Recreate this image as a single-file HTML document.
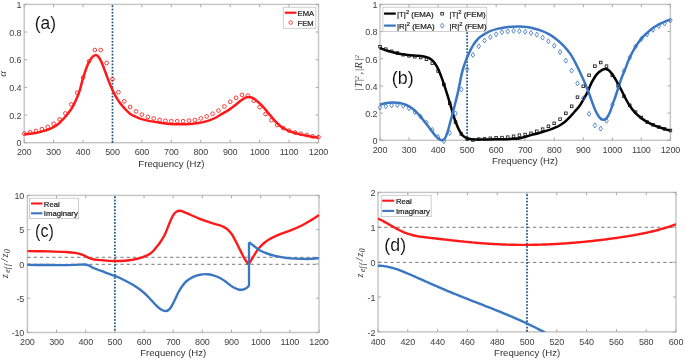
<!DOCTYPE html>
<html><head><meta charset="utf-8"><title>Chart</title>
<style>
html,body{margin:0;padding:0;background:#fff;width:685px;height:360px;overflow:hidden;}
svg{display:block;font-family:"Liberation Sans", sans-serif;}
</style></head><body>
<svg width="685" height="360" viewBox="0 0 685 360">
<rect width="685" height="360" fill="#fff"/>
<g style="opacity:0.999">
<defs><clipPath id="ca"><rect x="24.2" y="4.4" width="294.3" height="138.3"/></clipPath><clipPath id="cb"><rect x="380" y="4.4" width="290.4" height="135.9"/></clipPath><clipPath id="cc"><rect x="27.4" y="195.4" width="291.6" height="137.1"/></clipPath><clipPath id="cd"><rect x="378" y="192.4" width="298" height="139.5"/></clipPath></defs>
<rect x="24.2" y="4.4" width="294.3" height="138.3" fill="none" stroke="#c4c4c4" stroke-width="1.4"/>
<path d="M24.2,142.7 v-2.9 M24.2,4.4 v2.9 M53.63,142.7 v-2.9 M53.63,4.4 v2.9 M83.06,142.7 v-2.9 M83.06,4.4 v2.9 M112.49,142.7 v-2.9 M112.49,4.4 v2.9 M141.92,142.7 v-2.9 M141.92,4.4 v2.9 M171.35,142.7 v-2.9 M171.35,4.4 v2.9 M200.78,142.7 v-2.9 M200.78,4.4 v2.9 M230.21,142.7 v-2.9 M230.21,4.4 v2.9 M259.64,142.7 v-2.9 M259.64,4.4 v2.9 M289.07,142.7 v-2.9 M289.07,4.4 v2.9 M318.5,142.7 v-2.9 M318.5,4.4 v2.9 M24.2,142.7 h2.9 M318.5,142.7 h-2.9 M24.2,115.04 h2.9 M318.5,115.04 h-2.9 M24.2,87.38 h2.9 M318.5,87.38 h-2.9 M24.2,59.72 h2.9 M318.5,59.72 h-2.9 M24.2,32.06 h2.9 M318.5,32.06 h-2.9 M24.2,4.4 h2.9 M318.5,4.4 h-2.9 " stroke="#a8a8a8" stroke-width="1" fill="none"/>
<text x="24.2" y="154.8" font-size="9" text-anchor="middle" fill="#404040" font-family='"Liberation Sans", sans-serif' letter-spacing="-0.15">200</text>
<text x="53.63" y="154.8" font-size="9" text-anchor="middle" fill="#404040" font-family='"Liberation Sans", sans-serif' letter-spacing="-0.15">300</text>
<text x="83.06" y="154.8" font-size="9" text-anchor="middle" fill="#404040" font-family='"Liberation Sans", sans-serif' letter-spacing="-0.15">400</text>
<text x="112.49" y="154.8" font-size="9" text-anchor="middle" fill="#404040" font-family='"Liberation Sans", sans-serif' letter-spacing="-0.15">500</text>
<text x="141.92" y="154.8" font-size="9" text-anchor="middle" fill="#404040" font-family='"Liberation Sans", sans-serif' letter-spacing="-0.15">600</text>
<text x="171.35" y="154.8" font-size="9" text-anchor="middle" fill="#404040" font-family='"Liberation Sans", sans-serif' letter-spacing="-0.15">700</text>
<text x="200.78" y="154.8" font-size="9" text-anchor="middle" fill="#404040" font-family='"Liberation Sans", sans-serif' letter-spacing="-0.15">800</text>
<text x="230.21" y="154.8" font-size="9" text-anchor="middle" fill="#404040" font-family='"Liberation Sans", sans-serif' letter-spacing="-0.15">900</text>
<text x="259.64" y="154.8" font-size="9" text-anchor="middle" fill="#404040" font-family='"Liberation Sans", sans-serif' letter-spacing="-0.15">1000</text>
<text x="289.07" y="154.8" font-size="9" text-anchor="middle" fill="#404040" font-family='"Liberation Sans", sans-serif' letter-spacing="-0.15">1100</text>
<text x="318.5" y="154.8" font-size="9" text-anchor="middle" fill="#404040" font-family='"Liberation Sans", sans-serif' letter-spacing="-0.15">1200</text>
<text x="21.3" y="146.44" font-size="9" text-anchor="end" fill="#404040" font-family='"Liberation Sans", sans-serif' letter-spacing="-0.15">0</text>
<text x="21.3" y="118.78" font-size="9" text-anchor="end" fill="#404040" font-family='"Liberation Sans", sans-serif' letter-spacing="-0.15">0.2</text>
<text x="21.3" y="91.12" font-size="9" text-anchor="end" fill="#404040" font-family='"Liberation Sans", sans-serif' letter-spacing="-0.15">0.4</text>
<text x="21.3" y="63.46" font-size="9" text-anchor="end" fill="#404040" font-family='"Liberation Sans", sans-serif' letter-spacing="-0.15">0.6</text>
<text x="21.3" y="35.8" font-size="9" text-anchor="end" fill="#404040" font-family='"Liberation Sans", sans-serif' letter-spacing="-0.15">0.8</text>
<text x="21.3" y="8.14" font-size="9" text-anchor="end" fill="#404040" font-family='"Liberation Sans", sans-serif' letter-spacing="-0.15">1</text>
<g fill="#1a5280"><rect x="111.64" y="5.4" width="1.7" height="1.7"/><rect x="111.64" y="8.63" width="1.7" height="1.7"/><rect x="111.64" y="11.86" width="1.7" height="1.7"/><rect x="111.64" y="15.09" width="1.7" height="1.7"/><rect x="111.64" y="18.32" width="1.7" height="1.7"/><rect x="111.64" y="21.55" width="1.7" height="1.7"/><rect x="111.64" y="24.78" width="1.7" height="1.7"/><rect x="111.64" y="28.01" width="1.7" height="1.7"/><rect x="111.64" y="31.24" width="1.7" height="1.7"/><rect x="111.64" y="34.47" width="1.7" height="1.7"/><rect x="111.64" y="37.7" width="1.7" height="1.7"/><rect x="111.64" y="40.93" width="1.7" height="1.7"/><rect x="111.64" y="44.16" width="1.7" height="1.7"/><rect x="111.64" y="47.39" width="1.7" height="1.7"/><rect x="111.64" y="50.62" width="1.7" height="1.7"/><rect x="111.64" y="53.85" width="1.7" height="1.7"/><rect x="111.64" y="57.08" width="1.7" height="1.7"/><rect x="111.64" y="60.31" width="1.7" height="1.7"/><rect x="111.64" y="63.54" width="1.7" height="1.7"/><rect x="111.64" y="66.77" width="1.7" height="1.7"/><rect x="111.64" y="70" width="1.7" height="1.7"/><rect x="111.64" y="73.23" width="1.7" height="1.7"/><rect x="111.64" y="76.46" width="1.7" height="1.7"/><rect x="111.64" y="79.69" width="1.7" height="1.7"/><rect x="111.64" y="82.92" width="1.7" height="1.7"/><rect x="111.64" y="86.15" width="1.7" height="1.7"/><rect x="111.64" y="89.38" width="1.7" height="1.7"/><rect x="111.64" y="92.61" width="1.7" height="1.7"/><rect x="111.64" y="95.84" width="1.7" height="1.7"/><rect x="111.64" y="99.07" width="1.7" height="1.7"/><rect x="111.64" y="102.3" width="1.7" height="1.7"/><rect x="111.64" y="105.53" width="1.7" height="1.7"/><rect x="111.64" y="108.76" width="1.7" height="1.7"/><rect x="111.64" y="111.99" width="1.7" height="1.7"/><rect x="111.64" y="115.22" width="1.7" height="1.7"/><rect x="111.64" y="118.45" width="1.7" height="1.7"/><rect x="111.64" y="121.68" width="1.7" height="1.7"/><rect x="111.64" y="124.91" width="1.7" height="1.7"/><rect x="111.64" y="128.14" width="1.7" height="1.7"/><rect x="111.64" y="131.37" width="1.7" height="1.7"/><rect x="111.64" y="134.6" width="1.7" height="1.7"/><rect x="111.64" y="137.83" width="1.7" height="1.7"/><rect x="111.64" y="141.06" width="1.7" height="1.7"/></g>
<path d="M24.2,134.4 C25.17,134.31 27.92,134.12 30,133.85 C32.08,133.58 34.48,133.26 36.7,132.8 C38.92,132.34 41.08,131.76 43.3,131.1 C45.52,130.44 47.77,129.85 50,128.85 C52.23,127.85 54.95,126.26 56.7,125.1 C58.45,123.94 58.88,123.5 60.5,121.9 C62.12,120.3 64.4,117.97 66.4,115.5 C68.4,113.03 70.72,110.08 72.5,107.1 C74.28,104.12 75.85,100.52 77.1,97.6 C78.35,94.68 79.01,92.85 80,89.6 C80.99,86.35 81.78,82.18 83.05,78.1 C84.32,74.02 86.19,68.43 87.6,65.1 C89.01,61.77 90.22,59.77 91.5,58.1 C92.78,56.43 94.17,55.35 95.3,55.1 C96.43,54.85 97.28,55.47 98.3,56.6 C99.32,57.73 100.38,59.75 101.4,61.9 C102.42,64.05 103.38,66.83 104.4,69.5 C105.42,72.17 106.48,75.22 107.5,77.9 C108.52,80.58 109.48,83.18 110.5,85.6 C111.52,88.02 112.58,90.37 113.6,92.4 C114.62,94.43 115.53,96.03 116.6,97.8 C117.67,99.57 118.6,101.17 120,103 C121.4,104.83 123.33,107 125,108.8 C126.67,110.6 128.33,112.53 130,113.8 C131.67,115.07 133.33,115.6 135,116.4 C136.67,117.2 137.5,117.82 140,118.6 C142.5,119.38 146.67,120.4 150,121.1 C153.33,121.8 156.67,122.33 160,122.8 C163.33,123.27 166.67,123.65 170,123.9 C173.33,124.15 176.67,124.28 180,124.3 C183.33,124.32 186.67,124.25 190,124 C193.33,123.75 197.5,123.2 200,122.8 C202.5,122.4 203.33,122.05 205,121.6 C206.67,121.15 208.33,120.7 210,120.1 C211.67,119.5 213,119.03 215,118 C217,116.97 219.5,115.38 222,113.9 C224.5,112.42 227.67,110.67 230,109.1 C232.33,107.53 234.17,105.95 236,104.5 C237.83,103.05 239.5,101.52 241,100.4 C242.5,99.28 243.75,98.37 245,97.8 C246.25,97.23 247.33,97.02 248.5,97 C249.67,96.98 250.75,97.17 252,97.7 C253.25,98.23 254.33,98.88 256,100.2 C257.67,101.52 260,103.53 262,105.6 C264,107.67 266,110.23 268,112.6 C270,114.97 272,117.6 274,119.8 C276,122 278.17,124.25 280,125.8 C281.83,127.35 283.33,128.17 285,129.1 C286.67,130.03 287.5,130.52 290,131.4 C292.5,132.28 296.67,133.57 300,134.4 C303.33,135.23 306.92,135.83 310,136.4 C313.08,136.97 317.08,137.57 318.5,137.8" stroke="#ff1a1a" stroke-width="2.5" fill="none" stroke-linejoin="round" stroke-linecap="butt"/>
<g fill="none" stroke="#ff1a1a" stroke-width="0.85"><circle cx="24.2" cy="133.6" r="1.85"/><circle cx="30.09" cy="132.3" r="1.85"/><circle cx="35.97" cy="130.9" r="1.85"/><circle cx="41.86" cy="129.1" r="1.85"/><circle cx="47.74" cy="126.9" r="1.85"/><circle cx="53.63" cy="123.7" r="1.85"/><circle cx="59.52" cy="119.4" r="1.85"/><circle cx="65.4" cy="113.4" r="1.85"/><circle cx="71.29" cy="104.4" r="1.85"/><circle cx="77.17" cy="92.6" r="1.85"/><circle cx="83.06" cy="77.5" r="1.85"/><circle cx="88.95" cy="61.3" r="1.85"/><circle cx="94.83" cy="50" r="1.85"/><circle cx="100.72" cy="50" r="1.85"/><circle cx="106.6" cy="63" r="1.85"/><circle cx="112.49" cy="79.2" r="1.85"/><circle cx="118.38" cy="92.2" r="1.85"/><circle cx="124.26" cy="101.3" r="1.85"/><circle cx="130.15" cy="107" r="1.85"/><circle cx="136.03" cy="111.4" r="1.85"/><circle cx="141.92" cy="114.6" r="1.85"/><circle cx="147.81" cy="116.9" r="1.85"/><circle cx="153.69" cy="118.5" r="1.85"/><circle cx="159.58" cy="119.9" r="1.85"/><circle cx="165.46" cy="120.8" r="1.85"/><circle cx="171.35" cy="121.2" r="1.85"/><circle cx="177.24" cy="121.2" r="1.85"/><circle cx="183.12" cy="121.2" r="1.85"/><circle cx="189.01" cy="120.6" r="1.85"/><circle cx="194.89" cy="120" r="1.85"/><circle cx="200.78" cy="118.4" r="1.85"/><circle cx="206.67" cy="116.4" r="1.85"/><circle cx="212.55" cy="113.75" r="1.85"/><circle cx="218.44" cy="110.6" r="1.85"/><circle cx="224.32" cy="106.4" r="1.85"/><circle cx="230.21" cy="101.8" r="1.85"/><circle cx="236.1" cy="97.8" r="1.85"/><circle cx="241.98" cy="94.9" r="1.85"/><circle cx="247.87" cy="95.6" r="1.85"/><circle cx="253.75" cy="100.8" r="1.85"/><circle cx="259.64" cy="107.1" r="1.85"/><circle cx="265.53" cy="114" r="1.85"/><circle cx="271.41" cy="120.2" r="1.85"/><circle cx="277.3" cy="125" r="1.85"/><circle cx="283.18" cy="128.1" r="1.85"/><circle cx="289.07" cy="130.6" r="1.85"/><circle cx="294.96" cy="132.5" r="1.85"/><circle cx="300.84" cy="133.75" r="1.85"/><circle cx="306.73" cy="135" r="1.85"/><circle cx="312.61" cy="136.25" r="1.85"/><circle cx="318.5" cy="137.1" r="1.85"/></g>
<rect x="283.3" y="7.3" width="32.5" height="21" fill="#fff" stroke="#c4c4c4" stroke-width="0.8"/>
<line x1="284.8" y1="12.7" x2="296.5" y2="12.7" stroke="#ff1a1a" stroke-width="2.2"/>
<circle cx="290.7" cy="22.6" r="1.75" fill="none" stroke="#ff1a1a" stroke-width="0.85"/>
<text x="297.6" y="15.8" font-size="7.6" text-anchor="start" fill="#1e1e1e" font-family='"Liberation Sans", sans-serif' stroke="#1e1e1e" stroke-width="0.22">EMA</text>
<text x="297.6" y="25.6" font-size="7.6" text-anchor="start" fill="#1e1e1e" font-family='"Liberation Sans", sans-serif' stroke="#1e1e1e" stroke-width="0.22">FEM</text>
<text x="171.4" y="167.1" font-size="9.6" text-anchor="middle" fill="#333" font-family='"Liberation Sans", sans-serif' >Frequency (Hz)</text>
<text x="6" y="73.9" font-size="10.6" text-anchor="middle" fill="#333" font-family='"Liberation Serif", serif' font-style="italic" transform="rotate(-90 6.0 73.9)">&#945;</text>
<rect x="380" y="4.4" width="290.4" height="135.9" fill="none" stroke="#c4c4c4" stroke-width="1.4"/>
<path d="M380,140.3 v-2.9 M380,4.4 v2.9 M409.04,140.3 v-2.9 M409.04,4.4 v2.9 M438.08,140.3 v-2.9 M438.08,4.4 v2.9 M467.12,140.3 v-2.9 M467.12,4.4 v2.9 M496.16,140.3 v-2.9 M496.16,4.4 v2.9 M525.2,140.3 v-2.9 M525.2,4.4 v2.9 M554.24,140.3 v-2.9 M554.24,4.4 v2.9 M583.28,140.3 v-2.9 M583.28,4.4 v2.9 M612.32,140.3 v-2.9 M612.32,4.4 v2.9 M641.36,140.3 v-2.9 M641.36,4.4 v2.9 M670.4,140.3 v-2.9 M670.4,4.4 v2.9 M380,140.3 h2.9 M670.4,140.3 h-2.9 M380,113.12 h2.9 M670.4,113.12 h-2.9 M380,85.94 h2.9 M670.4,85.94 h-2.9 M380,58.76 h2.9 M670.4,58.76 h-2.9 M380,31.58 h2.9 M670.4,31.58 h-2.9 M380,4.4 h2.9 M670.4,4.4 h-2.9 " stroke="#a8a8a8" stroke-width="1" fill="none"/>
<text x="380" y="152.6" font-size="9" text-anchor="middle" fill="#404040" font-family='"Liberation Sans", sans-serif' letter-spacing="-0.15">200</text>
<text x="409.04" y="152.6" font-size="9" text-anchor="middle" fill="#404040" font-family='"Liberation Sans", sans-serif' letter-spacing="-0.15">300</text>
<text x="438.08" y="152.6" font-size="9" text-anchor="middle" fill="#404040" font-family='"Liberation Sans", sans-serif' letter-spacing="-0.15">400</text>
<text x="467.12" y="152.6" font-size="9" text-anchor="middle" fill="#404040" font-family='"Liberation Sans", sans-serif' letter-spacing="-0.15">500</text>
<text x="496.16" y="152.6" font-size="9" text-anchor="middle" fill="#404040" font-family='"Liberation Sans", sans-serif' letter-spacing="-0.15">600</text>
<text x="525.2" y="152.6" font-size="9" text-anchor="middle" fill="#404040" font-family='"Liberation Sans", sans-serif' letter-spacing="-0.15">700</text>
<text x="554.24" y="152.6" font-size="9" text-anchor="middle" fill="#404040" font-family='"Liberation Sans", sans-serif' letter-spacing="-0.15">800</text>
<text x="583.28" y="152.6" font-size="9" text-anchor="middle" fill="#404040" font-family='"Liberation Sans", sans-serif' letter-spacing="-0.15">900</text>
<text x="612.32" y="152.6" font-size="9" text-anchor="middle" fill="#404040" font-family='"Liberation Sans", sans-serif' letter-spacing="-0.15">1000</text>
<text x="641.36" y="152.6" font-size="9" text-anchor="middle" fill="#404040" font-family='"Liberation Sans", sans-serif' letter-spacing="-0.15">1100</text>
<text x="670.4" y="152.6" font-size="9" text-anchor="middle" fill="#404040" font-family='"Liberation Sans", sans-serif' letter-spacing="-0.15">1200</text>
<text x="377.3" y="144.04" font-size="9" text-anchor="end" fill="#404040" font-family='"Liberation Sans", sans-serif' letter-spacing="-0.15">0</text>
<text x="377.3" y="116.86" font-size="9" text-anchor="end" fill="#404040" font-family='"Liberation Sans", sans-serif' letter-spacing="-0.15">0.2</text>
<text x="377.3" y="89.68" font-size="9" text-anchor="end" fill="#404040" font-family='"Liberation Sans", sans-serif' letter-spacing="-0.15">0.4</text>
<text x="377.3" y="62.5" font-size="9" text-anchor="end" fill="#404040" font-family='"Liberation Sans", sans-serif' letter-spacing="-0.15">0.6</text>
<text x="377.3" y="35.32" font-size="9" text-anchor="end" fill="#404040" font-family='"Liberation Sans", sans-serif' letter-spacing="-0.15">0.8</text>
<text x="377.3" y="8.14" font-size="9" text-anchor="end" fill="#404040" font-family='"Liberation Sans", sans-serif' letter-spacing="-0.15">1</text>
<g fill="#1a5280"><rect x="466.27" y="32.2" width="1.7" height="1.7"/><rect x="466.27" y="35.43" width="1.7" height="1.7"/><rect x="466.27" y="38.66" width="1.7" height="1.7"/><rect x="466.27" y="41.89" width="1.7" height="1.7"/><rect x="466.27" y="45.12" width="1.7" height="1.7"/><rect x="466.27" y="48.35" width="1.7" height="1.7"/><rect x="466.27" y="51.58" width="1.7" height="1.7"/><rect x="466.27" y="54.81" width="1.7" height="1.7"/><rect x="466.27" y="58.04" width="1.7" height="1.7"/><rect x="466.27" y="61.27" width="1.7" height="1.7"/><rect x="466.27" y="64.5" width="1.7" height="1.7"/><rect x="466.27" y="67.73" width="1.7" height="1.7"/><rect x="466.27" y="70.96" width="1.7" height="1.7"/><rect x="466.27" y="74.19" width="1.7" height="1.7"/><rect x="466.27" y="77.42" width="1.7" height="1.7"/><rect x="466.27" y="80.65" width="1.7" height="1.7"/><rect x="466.27" y="83.88" width="1.7" height="1.7"/><rect x="466.27" y="87.11" width="1.7" height="1.7"/><rect x="466.27" y="90.34" width="1.7" height="1.7"/><rect x="466.27" y="93.57" width="1.7" height="1.7"/><rect x="466.27" y="96.8" width="1.7" height="1.7"/><rect x="466.27" y="100.03" width="1.7" height="1.7"/><rect x="466.27" y="103.26" width="1.7" height="1.7"/><rect x="466.27" y="106.49" width="1.7" height="1.7"/><rect x="466.27" y="109.72" width="1.7" height="1.7"/><rect x="466.27" y="112.95" width="1.7" height="1.7"/><rect x="466.27" y="116.18" width="1.7" height="1.7"/><rect x="466.27" y="119.41" width="1.7" height="1.7"/><rect x="466.27" y="122.64" width="1.7" height="1.7"/><rect x="466.27" y="125.87" width="1.7" height="1.7"/><rect x="466.27" y="129.1" width="1.7" height="1.7"/><rect x="466.27" y="132.33" width="1.7" height="1.7"/><rect x="466.27" y="135.56" width="1.7" height="1.7"/><rect x="466.27" y="138.79" width="1.7" height="1.7"/></g>
<path d="M380,48 C381.33,48.5 385,50.08 388,51 C391,51.92 394.67,52.83 398,53.5 C401.33,54.17 404.67,54.62 408,55 C411.33,55.38 415.17,55.52 418,55.8 C420.83,56.08 423.13,56.3 425,56.7 C426.87,57.1 427.82,57.43 429.2,58.2 C430.58,58.97 431.92,59.73 433.3,61.3 C434.68,62.87 436.22,65.17 437.5,67.6 C438.78,70.03 439.85,72.9 441,75.9 C442.15,78.9 443.25,82.15 444.4,85.6 C445.55,89.05 446.83,93.17 447.9,96.6 C448.97,100.03 449.93,103.25 450.8,106.2 C451.67,109.15 452.19,111.42 453.1,114.3 C454.01,117.18 455.2,120.78 456.25,123.5 C457.3,126.22 458.34,128.63 459.4,130.6 C460.46,132.57 461.37,134.05 462.6,135.3 C463.83,136.55 465.28,137.45 466.8,138.1 C468.32,138.75 469.5,138.97 471.7,139.2 C473.9,139.43 476.95,139.47 480,139.5 C483.05,139.53 486.67,139.45 490,139.4 C493.33,139.35 496.67,139.28 500,139.2 C503.33,139.12 506.67,139.07 510,138.9 C513.33,138.73 516.67,138.78 520,138.2 C523.33,137.62 526.67,136.3 530,135.4 C533.33,134.5 536.67,133.77 540,132.8 C543.33,131.83 547.5,130.45 550,129.6 C552.5,128.75 553.33,128.43 555,127.7 C556.67,126.97 558.33,126.2 560,125.2 C561.67,124.2 563.33,123.08 565,121.7 C566.67,120.32 568.33,118.63 570,116.9 C571.67,115.17 573.33,113.25 575,111.3 C576.67,109.35 578.2,107.87 580,105.2 C581.8,102.53 584.38,97.85 585.8,95.3 C587.22,92.75 587.62,91.85 588.5,89.9 C589.38,87.95 589.73,86.18 591.1,83.6 C592.47,81.02 594.85,76.68 596.7,74.4 C598.55,72.12 600.7,70.78 602.2,69.9 C603.7,69.02 604.53,68.98 605.7,69.1 C606.87,69.22 607.93,69.48 609.2,70.6 C610.47,71.72 611.68,73.35 613.3,75.8 C614.92,78.25 617.03,81.88 618.9,85.3 C620.77,88.72 622.78,93.02 624.5,96.3 C626.22,99.58 627.4,102.23 629.2,105 C631,107.77 633.27,110.7 635.3,112.9 C637.33,115.1 639.37,116.67 641.4,118.2 C643.43,119.73 645.47,120.95 647.5,122.1 C649.53,123.25 651.57,124.22 653.6,125.1 C655.63,125.98 657.67,126.68 659.7,127.4 C661.73,128.12 664.02,128.88 665.8,129.4 C667.58,129.92 669.63,130.32 670.4,130.5" stroke="#000000" stroke-width="2.5" fill="none" stroke-linejoin="round" stroke-linecap="butt"/>
<path d="M380,104.6 C381.05,104.32 384.13,103.27 386.3,102.9 C388.47,102.53 390.77,102.38 393,102.4 C395.23,102.42 397.48,102.57 399.7,103 C401.92,103.43 404.08,104 406.3,105 C408.52,106 410.77,107.23 413,109 C415.23,110.77 417.7,113.38 419.7,115.6 C421.7,117.82 423.49,120.4 425,122.3 C426.51,124.2 427.5,125.37 428.75,127 C430,128.63 431.25,130.5 432.5,132.1 C433.75,133.7 435,135.35 436.25,136.6 C437.5,137.85 438.99,139.02 440,139.6 C441.01,140.18 441.5,140.27 442.3,140.1 C443.1,139.93 443.93,139.92 444.8,138.6 C445.67,137.28 446.63,134.77 447.5,132.2 C448.37,129.63 449.17,126.27 450,123.2 C450.83,120.13 451.67,116.97 452.5,113.8 C453.33,110.63 454.18,107.4 455,104.2 C455.82,101 456.63,97.93 457.4,94.6 C458.17,91.27 458.9,87.57 459.6,84.2 C460.3,80.83 460.95,77.2 461.6,74.4 C462.25,71.6 462.73,69.87 463.5,67.4 C464.27,64.93 465.45,61.7 466.25,59.6 C467.05,57.5 467.56,56.47 468.3,54.8 C469.04,53.13 469.83,51.3 470.7,49.6 C471.57,47.9 472.5,46.13 473.5,44.6 C474.5,43.07 475.62,41.65 476.7,40.4 C477.78,39.15 478.62,38.18 480,37.1 C481.38,36.02 483.33,34.88 485,33.9 C486.67,32.92 487.95,32.03 490,31.2 C492.05,30.37 494.87,29.52 497.3,28.9 C499.73,28.28 502.17,27.87 504.6,27.5 C507.03,27.13 509.47,26.87 511.9,26.7 C514.33,26.53 516.77,26.43 519.2,26.5 C521.63,26.57 524.07,26.77 526.5,27.1 C528.93,27.43 531.37,27.9 533.8,28.5 C536.23,29.1 538.67,29.8 541.1,30.7 C543.53,31.6 545.97,32.57 548.4,33.9 C550.83,35.23 553.23,36.8 555.7,38.7 C558.17,40.6 560.77,42.77 563.2,45.3 C565.63,47.83 568.2,50.85 570.3,53.9 C572.4,56.95 573.95,60.05 575.8,63.6 C577.65,67.15 579.83,71.83 581.4,75.2 C582.97,78.57 583.97,80.87 585.2,83.8 C586.43,86.73 587.7,89.92 588.8,92.8 C589.9,95.68 590.72,98.18 591.8,101.1 C592.88,104.02 594.03,107.58 595.3,110.3 C596.57,113.02 598.13,115.82 599.4,117.4 C600.67,118.98 601.73,119.63 602.9,119.8 C604.07,119.97 605.23,119.67 606.4,118.4 C607.57,117.13 608.75,114.82 609.9,112.2 C611.05,109.58 612.15,105.98 613.3,102.7 C614.45,99.42 615.52,96.35 616.8,92.5 C618.08,88.65 619.5,83.75 621,79.6 C622.5,75.45 624.43,71.07 625.8,67.6 C627.17,64.13 627.62,62.2 629.2,58.8 C630.78,55.4 633.27,50.57 635.3,47.2 C637.33,43.83 639.37,41.03 641.4,38.6 C643.43,36.17 645.47,34.43 647.5,32.6 C649.53,30.77 651.57,29.05 653.6,27.6 C655.63,26.15 657.67,24.97 659.7,23.9 C661.73,22.83 664.02,21.92 665.8,21.2 C667.58,20.48 669.63,19.87 670.4,19.6" stroke="#3a76c2" stroke-width="2.5" fill="none" stroke-linejoin="round" stroke-linecap="butt"/>
<g fill="none" stroke="#111" stroke-width="0.8"><rect x="378.7" y="45.4" width="2.6" height="2.6"/><rect x="384.51" y="47.9" width="2.6" height="2.6"/><rect x="390.32" y="50" width="2.6" height="2.6"/><rect x="396.12" y="51.7" width="2.6" height="2.6"/><rect x="401.93" y="53.4" width="2.6" height="2.6"/><rect x="407.74" y="54.5" width="2.6" height="2.6"/><rect x="413.55" y="55.4" width="2.6" height="2.6"/><rect x="419.36" y="56.2" width="2.6" height="2.6"/><rect x="425.16" y="58" width="2.6" height="2.6"/><rect x="430.97" y="61.9" width="2.6" height="2.6"/><rect x="436.78" y="69.7" width="2.6" height="2.6"/><rect x="442.59" y="83.2" width="2.6" height="2.6"/><rect x="448.4" y="102" width="2.6" height="2.6"/><rect x="454.2" y="120.8" width="2.6" height="2.6"/><rect x="460.01" y="132.7" width="2.6" height="2.6"/><rect x="465.82" y="137.7" width="2.6" height="2.6"/><rect x="471.63" y="138.7" width="2.6" height="2.6"/><rect x="477.44" y="137.9" width="2.6" height="2.6"/><rect x="483.24" y="137.6" width="2.6" height="2.6"/><rect x="489.05" y="137" width="2.6" height="2.6"/><rect x="494.86" y="136.5" width="2.6" height="2.6"/><rect x="500.67" y="136.3" width="2.6" height="2.6"/><rect x="506.48" y="135.9" width="2.6" height="2.6"/><rect x="512.28" y="135" width="2.6" height="2.6"/><rect x="518.09" y="133.9" width="2.6" height="2.6"/><rect x="523.9" y="133.2" width="2.6" height="2.6"/><rect x="529.71" y="132" width="2.6" height="2.6"/><rect x="535.52" y="130" width="2.6" height="2.6"/><rect x="541.32" y="127.9" width="2.6" height="2.6"/><rect x="547.13" y="125" width="2.6" height="2.6"/><rect x="552.94" y="122" width="2.6" height="2.6"/><rect x="558.75" y="117.9" width="2.6" height="2.6"/><rect x="564.56" y="112" width="2.6" height="2.6"/><rect x="570.36" y="105" width="2.6" height="2.6"/><rect x="576.17" y="95.9" width="2.6" height="2.6"/><rect x="581.98" y="85" width="2.6" height="2.6"/><rect x="587.79" y="74" width="2.6" height="2.6"/><rect x="593.6" y="64.9" width="2.6" height="2.6"/><rect x="599.4" y="61.2" width="2.6" height="2.6"/><rect x="605.21" y="64.9" width="2.6" height="2.6"/><rect x="611.02" y="74" width="2.6" height="2.6"/><rect x="616.83" y="83.7" width="2.6" height="2.6"/><rect x="622.64" y="95.1" width="2.6" height="2.6"/><rect x="628.44" y="104" width="2.6" height="2.6"/><rect x="634.25" y="110.8" width="2.6" height="2.6"/><rect x="640.06" y="116.2" width="2.6" height="2.6"/><rect x="645.87" y="120.8" width="2.6" height="2.6"/><rect x="651.68" y="123.5" width="2.6" height="2.6"/><rect x="657.48" y="125.7" width="2.6" height="2.6"/><rect x="663.29" y="127.6" width="2.6" height="2.6"/><rect x="669.1" y="129.2" width="2.6" height="2.6"/></g>
<g fill="none" stroke="#3a76c2" stroke-width="0.85"><path d="M380,105 l1.75,2.5 l-1.75,2.5 l-1.75,-2.5z"/><path d="M385.81,103.7 l1.75,2.5 l-1.75,2.5 l-1.75,-2.5z"/><path d="M391.62,102.8 l1.75,2.5 l-1.75,2.5 l-1.75,-2.5z"/><path d="M397.42,102.5 l1.75,2.5 l-1.75,2.5 l-1.75,-2.5z"/><path d="M403.23,103.3 l1.75,2.5 l-1.75,2.5 l-1.75,-2.5z"/><path d="M409.04,105.8 l1.75,2.5 l-1.75,2.5 l-1.75,-2.5z"/><path d="M414.85,109.5 l1.75,2.5 l-1.75,2.5 l-1.75,-2.5z"/><path d="M420.66,114.2 l1.75,2.5 l-1.75,2.5 l-1.75,-2.5z"/><path d="M426.46,120.2 l1.75,2.5 l-1.75,2.5 l-1.75,-2.5z"/><path d="M432.27,127.5 l1.75,2.5 l-1.75,2.5 l-1.75,-2.5z"/><path d="M438.08,134.4 l1.75,2.5 l-1.75,2.5 l-1.75,-2.5z"/><path d="M443.89,138.5 l1.75,2.5 l-1.75,2.5 l-1.75,-2.5z"/><path d="M449.7,130.6 l1.75,2.5 l-1.75,2.5 l-1.75,-2.5z"/><path d="M455.5,110.9 l1.75,2.5 l-1.75,2.5 l-1.75,-2.5z"/><path d="M461.31,86.9 l1.75,2.5 l-1.75,2.5 l-1.75,-2.5z"/><path d="M467.12,66.75 l1.75,2.5 l-1.75,2.5 l-1.75,-2.5z"/><path d="M472.93,52.5 l1.75,2.5 l-1.75,2.5 l-1.75,-2.5z"/><path d="M478.74,43.75 l1.75,2.5 l-1.75,2.5 l-1.75,-2.5z"/><path d="M484.54,38 l1.75,2.5 l-1.75,2.5 l-1.75,-2.5z"/><path d="M490.35,34.5 l1.75,2.5 l-1.75,2.5 l-1.75,-2.5z"/><path d="M496.16,31.8 l1.75,2.5 l-1.75,2.5 l-1.75,-2.5z"/><path d="M501.97,29.7 l1.75,2.5 l-1.75,2.5 l-1.75,-2.5z"/><path d="M507.78,28.9 l1.75,2.5 l-1.75,2.5 l-1.75,-2.5z"/><path d="M513.58,28.3 l1.75,2.5 l-1.75,2.5 l-1.75,-2.5z"/><path d="M519.39,28.6 l1.75,2.5 l-1.75,2.5 l-1.75,-2.5z"/><path d="M525.2,29.3 l1.75,2.5 l-1.75,2.5 l-1.75,-2.5z"/><path d="M531.01,30.5 l1.75,2.5 l-1.75,2.5 l-1.75,-2.5z"/><path d="M536.82,32.2 l1.75,2.5 l-1.75,2.5 l-1.75,-2.5z"/><path d="M542.62,35.1 l1.75,2.5 l-1.75,2.5 l-1.75,-2.5z"/><path d="M548.43,38.8 l1.75,2.5 l-1.75,2.5 l-1.75,-2.5z"/><path d="M554.24,43.2 l1.75,2.5 l-1.75,2.5 l-1.75,-2.5z"/><path d="M560.05,49.5 l1.75,2.5 l-1.75,2.5 l-1.75,-2.5z"/><path d="M565.86,58.1 l1.75,2.5 l-1.75,2.5 l-1.75,-2.5z"/><path d="M571.66,68.1 l1.75,2.5 l-1.75,2.5 l-1.75,-2.5z"/><path d="M577.47,80.8 l1.75,2.5 l-1.75,2.5 l-1.75,-2.5z"/><path d="M583.28,95.8 l1.75,2.5 l-1.75,2.5 l-1.75,-2.5z"/><path d="M589.09,111.4 l1.75,2.5 l-1.75,2.5 l-1.75,-2.5z"/><path d="M594.9,122.9 l1.75,2.5 l-1.75,2.5 l-1.75,-2.5z"/><path d="M600.7,126.1 l1.75,2.5 l-1.75,2.5 l-1.75,-2.5z"/><path d="M606.51,118.3 l1.75,2.5 l-1.75,2.5 l-1.75,-2.5z"/><path d="M612.32,102.1 l1.75,2.5 l-1.75,2.5 l-1.75,-2.5z"/><path d="M618.13,84.6 l1.75,2.5 l-1.75,2.5 l-1.75,-2.5z"/><path d="M623.94,68.3 l1.75,2.5 l-1.75,2.5 l-1.75,-2.5z"/><path d="M629.74,55.1 l1.75,2.5 l-1.75,2.5 l-1.75,-2.5z"/><path d="M635.55,44.1 l1.75,2.5 l-1.75,2.5 l-1.75,-2.5z"/><path d="M641.36,36.5 l1.75,2.5 l-1.75,2.5 l-1.75,-2.5z"/><path d="M647.17,31.9 l1.75,2.5 l-1.75,2.5 l-1.75,-2.5z"/><path d="M652.98,27.3 l1.75,2.5 l-1.75,2.5 l-1.75,-2.5z"/><path d="M658.78,23.5 l1.75,2.5 l-1.75,2.5 l-1.75,-2.5z"/><path d="M664.59,20.9 l1.75,2.5 l-1.75,2.5 l-1.75,-2.5z"/><path d="M670.4,17.9 l1.75,2.5 l-1.75,2.5 l-1.75,-2.5z"/></g>
<rect x="382.9" y="7.3" width="103.8" height="24.3" fill="#fff" stroke="#c4c4c4" stroke-width="0.8"/>
<line x1="384.1" y1="13.6" x2="395.8" y2="13.6" stroke="#000" stroke-width="2.2"/>
<line x1="384.1" y1="25.6" x2="395.8" y2="25.6" stroke="#3a76c2" stroke-width="2.2"/>
<rect x="440.8" y="12.4" width="2.6" height="2.6" fill="none" stroke="#111" stroke-width="0.8"/>
<path d="M442.2,23.2 l1.75,2.5 l-1.75,2.5 l-1.75,-2.5z" fill="none" stroke="#3a76c2" stroke-width="0.85"/>
<text x="397" y="17.2" font-size="7.9" fill="#1e1e1e" stroke="#1e1e1e" stroke-width="0.22" font-family='"Liberation Sans", sans-serif'>|T|<tspan dy="-2.8" font-size="5.8">2</tspan><tspan dy="2.8"> (EMA)</tspan></text>
<text x="397" y="29.1" font-size="7.9" fill="#1e1e1e" stroke="#1e1e1e" stroke-width="0.22" font-family='"Liberation Sans", sans-serif'>|R|<tspan dy="-2.8" font-size="5.8">2</tspan><tspan dy="2.8"> (EMA)</tspan></text>
<text x="449.4" y="17.2" font-size="7.9" fill="#1e1e1e" stroke="#1e1e1e" stroke-width="0.22" font-family='"Liberation Sans", sans-serif'>|T|<tspan dy="-2.8" font-size="5.8">2</tspan><tspan dy="2.8"> (FEM)</tspan></text>
<text x="449.4" y="29.1" font-size="7.9" fill="#1e1e1e" stroke="#1e1e1e" stroke-width="0.22" font-family='"Liberation Sans", sans-serif'>|R|<tspan dy="-2.8" font-size="5.8">2</tspan><tspan dy="2.8"> (FEM)</tspan></text>
<text x="525" y="164.1" font-size="9.6" text-anchor="middle" fill="#333" font-family='"Liberation Sans", sans-serif' >Frequency (Hz)</text>
<text transform="translate(362.4 91) rotate(-90)" fill="#333" font-family='"Liberation Serif", serif' font-style="italic"><tspan x="0" y="0" font-size="10.4">|</tspan><tspan x="3.6" y="0" font-size="10.4">T</tspan><tspan x="9.2" y="0" font-size="10.4">|</tspan><tspan x="11.6" y="-3.8" font-size="7">2</tspan><tspan x="16.4" y="0" font-size="10.4">,</tspan><tspan x="19.6" y="0" font-size="10.4">|</tspan><tspan x="22.4" y="0" font-size="10.4">R</tspan><tspan x="29.8" y="0" font-size="10.4">|</tspan><tspan x="32.6" y="-3.8" font-size="7">2</tspan></text>
<rect x="27.4" y="195.4" width="291.6" height="137.1" fill="none" stroke="#c4c4c4" stroke-width="1.4"/>
<path d="M27.4,332.5 v-2.9 M27.4,195.4 v2.9 M56.56,332.5 v-2.9 M56.56,195.4 v2.9 M85.72,332.5 v-2.9 M85.72,195.4 v2.9 M114.88,332.5 v-2.9 M114.88,195.4 v2.9 M144.04,332.5 v-2.9 M144.04,195.4 v2.9 M173.2,332.5 v-2.9 M173.2,195.4 v2.9 M202.36,332.5 v-2.9 M202.36,195.4 v2.9 M231.52,332.5 v-2.9 M231.52,195.4 v2.9 M260.68,332.5 v-2.9 M260.68,195.4 v2.9 M289.84,332.5 v-2.9 M289.84,195.4 v2.9 M319,332.5 v-2.9 M319,195.4 v2.9 M27.4,332.5 h2.9 M319,332.5 h-2.9 M27.4,298.23 h2.9 M319,298.23 h-2.9 M27.4,263.95 h2.9 M319,263.95 h-2.9 M27.4,229.68 h2.9 M319,229.68 h-2.9 M27.4,195.4 h2.9 M319,195.4 h-2.9 " stroke="#a8a8a8" stroke-width="1" fill="none"/>
<text x="27.4" y="344.6" font-size="9" text-anchor="middle" fill="#404040" font-family='"Liberation Sans", sans-serif' letter-spacing="-0.15">200</text>
<text x="56.56" y="344.6" font-size="9" text-anchor="middle" fill="#404040" font-family='"Liberation Sans", sans-serif' letter-spacing="-0.15">300</text>
<text x="85.72" y="344.6" font-size="9" text-anchor="middle" fill="#404040" font-family='"Liberation Sans", sans-serif' letter-spacing="-0.15">400</text>
<text x="114.88" y="344.6" font-size="9" text-anchor="middle" fill="#404040" font-family='"Liberation Sans", sans-serif' letter-spacing="-0.15">500</text>
<text x="144.04" y="344.6" font-size="9" text-anchor="middle" fill="#404040" font-family='"Liberation Sans", sans-serif' letter-spacing="-0.15">600</text>
<text x="173.2" y="344.6" font-size="9" text-anchor="middle" fill="#404040" font-family='"Liberation Sans", sans-serif' letter-spacing="-0.15">700</text>
<text x="202.36" y="344.6" font-size="9" text-anchor="middle" fill="#404040" font-family='"Liberation Sans", sans-serif' letter-spacing="-0.15">800</text>
<text x="231.52" y="344.6" font-size="9" text-anchor="middle" fill="#404040" font-family='"Liberation Sans", sans-serif' letter-spacing="-0.15">900</text>
<text x="260.68" y="344.6" font-size="9" text-anchor="middle" fill="#404040" font-family='"Liberation Sans", sans-serif' letter-spacing="-0.15">1000</text>
<text x="289.84" y="344.6" font-size="9" text-anchor="middle" fill="#404040" font-family='"Liberation Sans", sans-serif' letter-spacing="-0.15">1100</text>
<text x="319" y="344.6" font-size="9" text-anchor="middle" fill="#404040" font-family='"Liberation Sans", sans-serif' letter-spacing="-0.15">1200</text>
<text x="24.2" y="336.24" font-size="9" text-anchor="end" fill="#404040" font-family='"Liberation Sans", sans-serif' letter-spacing="-0.15">-10</text>
<text x="24.2" y="301.97" font-size="9" text-anchor="end" fill="#404040" font-family='"Liberation Sans", sans-serif' letter-spacing="-0.15">-5</text>
<text x="24.2" y="267.69" font-size="9" text-anchor="end" fill="#404040" font-family='"Liberation Sans", sans-serif' letter-spacing="-0.15">0</text>
<text x="24.2" y="233.42" font-size="9" text-anchor="end" fill="#404040" font-family='"Liberation Sans", sans-serif' letter-spacing="-0.15">5</text>
<text x="24.2" y="199.14" font-size="9" text-anchor="end" fill="#404040" font-family='"Liberation Sans", sans-serif' letter-spacing="-0.15">10</text>
<line x1="27.4" y1="257.3" x2="319" y2="257.3" stroke="#7a7a7a" stroke-width="1" stroke-dasharray="3.3 2.9"/>
<line x1="27.4" y1="264.3" x2="319" y2="264.3" stroke="#7a7a7a" stroke-width="1" stroke-dasharray="3.3 2.9"/>
<g fill="#1a5280"><rect x="114.03" y="196.35" width="1.7" height="1.7"/><rect x="114.03" y="199.58" width="1.7" height="1.7"/><rect x="114.03" y="202.81" width="1.7" height="1.7"/><rect x="114.03" y="206.04" width="1.7" height="1.7"/><rect x="114.03" y="209.27" width="1.7" height="1.7"/><rect x="114.03" y="212.5" width="1.7" height="1.7"/><rect x="114.03" y="215.73" width="1.7" height="1.7"/><rect x="114.03" y="218.96" width="1.7" height="1.7"/><rect x="114.03" y="222.19" width="1.7" height="1.7"/><rect x="114.03" y="225.42" width="1.7" height="1.7"/><rect x="114.03" y="228.65" width="1.7" height="1.7"/><rect x="114.03" y="231.88" width="1.7" height="1.7"/><rect x="114.03" y="235.11" width="1.7" height="1.7"/><rect x="114.03" y="238.34" width="1.7" height="1.7"/><rect x="114.03" y="241.57" width="1.7" height="1.7"/><rect x="114.03" y="244.8" width="1.7" height="1.7"/><rect x="114.03" y="248.03" width="1.7" height="1.7"/><rect x="114.03" y="251.26" width="1.7" height="1.7"/><rect x="114.03" y="254.49" width="1.7" height="1.7"/><rect x="114.03" y="257.72" width="1.7" height="1.7"/><rect x="114.03" y="260.95" width="1.7" height="1.7"/><rect x="114.03" y="264.18" width="1.7" height="1.7"/><rect x="114.03" y="267.41" width="1.7" height="1.7"/><rect x="114.03" y="270.64" width="1.7" height="1.7"/><rect x="114.03" y="273.87" width="1.7" height="1.7"/><rect x="114.03" y="277.1" width="1.7" height="1.7"/><rect x="114.03" y="280.33" width="1.7" height="1.7"/><rect x="114.03" y="283.56" width="1.7" height="1.7"/><rect x="114.03" y="286.79" width="1.7" height="1.7"/><rect x="114.03" y="290.02" width="1.7" height="1.7"/><rect x="114.03" y="293.25" width="1.7" height="1.7"/><rect x="114.03" y="296.48" width="1.7" height="1.7"/><rect x="114.03" y="299.71" width="1.7" height="1.7"/><rect x="114.03" y="302.94" width="1.7" height="1.7"/><rect x="114.03" y="306.17" width="1.7" height="1.7"/><rect x="114.03" y="309.4" width="1.7" height="1.7"/><rect x="114.03" y="312.63" width="1.7" height="1.7"/><rect x="114.03" y="315.86" width="1.7" height="1.7"/><rect x="114.03" y="319.09" width="1.7" height="1.7"/><rect x="114.03" y="322.32" width="1.7" height="1.7"/><rect x="114.03" y="325.55" width="1.7" height="1.7"/><rect x="114.03" y="328.78" width="1.7" height="1.7"/></g>
<path d="M27.4,251.1 C30.9,251.15 41.98,251.25 48.4,251.4 C54.82,251.55 61.43,251.75 65.9,252 C70.37,252.25 72.48,252.47 75.2,252.9 C77.92,253.33 80.25,253.93 82.2,254.6 C84.15,255.27 85.33,256.2 86.9,256.9 C88.47,257.6 89.85,258.3 91.6,258.8 C93.35,259.3 95.17,259.62 97.4,259.9 C99.63,260.18 101.97,260.32 105,260.5 C108.03,260.68 112.37,260.97 115.6,261 C118.83,261.03 121.45,260.93 124.4,260.7 C127.35,260.47 130.33,260.17 133.3,259.6 C136.27,259.03 140,257.97 142.2,257.3 C144.4,256.63 145.2,256.18 146.5,255.6 C147.8,255.02 148.88,254.57 150,253.8 C151.12,253.03 152.18,252.03 153.2,251 C154.22,249.97 155.2,248.68 156.1,247.6 C157,246.52 157.83,245.52 158.6,244.5 C159.37,243.48 159.72,243.03 160.7,241.5 C161.68,239.97 163.35,237.57 164.5,235.3 C165.65,233.03 166.58,230.38 167.6,227.9 C168.62,225.42 169.58,222.65 170.6,220.4 C171.62,218.15 172.68,215.88 173.7,214.4 C174.72,212.92 175.68,212.1 176.7,211.5 C177.72,210.9 178.65,210.75 179.8,210.8 C180.95,210.85 181.75,211.1 183.6,211.8 C185.45,212.5 188.4,213.92 190.9,215 C193.4,216.08 195.68,217.17 198.6,218.3 C201.52,219.43 205.48,220.8 208.4,221.8 C211.32,222.8 214.17,223.7 216.1,224.3 C218.03,224.9 218.68,224.93 220,225.4 C221.32,225.87 222.67,226.37 224,227.1 C225.33,227.83 226.67,228.57 228,229.8 C229.33,231.03 230.67,232.5 232,234.5 C233.33,236.5 234.6,239.12 236,241.8 C237.4,244.48 238.98,247.8 240.4,250.6 C241.82,253.4 243.13,256.27 244.5,258.6 C245.87,260.93 247.92,263.6 248.6,264.6" stroke="#ff1a1a" stroke-width="2.4" fill="none" stroke-linejoin="round" stroke-linecap="butt"/>
<path d="M248.6,264.6 C248.92,264.07 249.9,262.42 250.5,261.4 C251.1,260.38 251.32,259.97 252.2,258.5 C253.07,257.03 254.57,254.38 255.75,252.6 C256.93,250.82 257.91,249.4 259.3,247.8 C260.69,246.2 262.5,244.4 264.1,243 C265.7,241.6 267.1,240.5 268.9,239.4 C270.7,238.3 272.92,237.32 274.9,236.4 C276.88,235.48 278.18,234.9 280.8,233.9 C283.42,232.9 287.02,231.85 290.6,230.4 C294.18,228.95 298.73,227 302.3,225.2 C305.87,223.4 309.22,221.28 312,219.6 C314.78,217.92 317.83,215.85 319,215.1" stroke="#ff1a1a" stroke-width="2.4" fill="none" stroke-linejoin="round" stroke-linecap="butt"/>
<path d="M27.4,264.9 C30.33,264.92 39.57,264.97 45,265 C50.43,265.03 55.17,265.12 60,265.1 C64.83,265.08 69.92,265 74,264.9 C78.08,264.8 82.08,264.42 84.5,264.5 C86.92,264.58 87,264.82 88.5,265.4 C90,265.98 90.75,266.85 93.5,268 C96.25,269.15 101.32,270.93 105,272.3 C108.68,273.67 112.37,274.88 115.6,276.2 C118.83,277.52 121.45,278.73 124.4,280.2 C127.35,281.67 130.33,283.17 133.3,285 C136.27,286.83 139.6,289.1 142.2,291.2 C144.8,293.3 146.67,295.33 148.9,297.6 C151.13,299.87 153.57,302.82 155.6,304.8 C157.63,306.78 159.43,308.45 161.1,309.5 C162.77,310.55 164.12,311.25 165.6,311.1 C167.08,310.95 168.55,310.28 170,308.6 C171.45,306.92 172.92,303.68 174.3,301 C175.68,298.32 176.93,295.03 178.3,292.5 C179.67,289.97 181.1,287.72 182.5,285.8 C183.9,283.88 184.9,282.5 186.7,281 C188.5,279.5 191.08,277.85 193.3,276.8 C195.52,275.75 197.77,275.13 200,274.7 C202.23,274.27 204.48,274.1 206.7,274.2 C208.92,274.3 211.08,274.67 213.3,275.3 C215.52,275.93 217.77,276.82 220,278 C222.23,279.18 224.48,280.85 226.7,282.4 C228.92,283.95 231.33,286.12 233.3,287.3 C235.27,288.48 236.98,289.1 238.5,289.5 C240.02,289.9 241.1,289.92 242.4,289.7 C243.7,289.48 245.2,288.85 246.3,288.2 C247.4,287.55 248.55,286.2 249,285.8" stroke="#3a76c2" stroke-width="2.4" fill="none" stroke-linejoin="round" stroke-linecap="butt"/>
<path d="M249,286.4 L249,242.2" stroke="#3a76c2" stroke-width="2.3" fill="none"/>
<path d="M249,242.2 C249.77,242.78 251.85,244.37 253.6,245.7 C255.35,247.03 257.23,248.9 259.5,250.2 C261.77,251.5 264.62,252.57 267.2,253.5 C269.78,254.43 272.4,255.15 275,255.8 C277.6,256.45 280.2,256.97 282.8,257.4 C285.4,257.83 287.35,258.15 290.6,258.4 C293.85,258.65 299.07,258.82 302.3,258.9 C305.53,258.98 307.22,259.03 310,258.9 C312.78,258.77 317.5,258.23 319,258.1" stroke="#3a76c2" stroke-width="2.4" fill="none" stroke-linejoin="round" stroke-linecap="butt"/>
<rect x="29.4" y="198.3" width="49.2" height="20.3" fill="#fff" stroke="#c4c4c4" stroke-width="0.8"/>
<line x1="31" y1="203.5" x2="42.5" y2="203.5" stroke="#ff1a1a" stroke-width="2.1"/>
<line x1="31" y1="213.3" x2="42.5" y2="213.3" stroke="#3a76c2" stroke-width="2.1"/>
<text x="43.8" y="206.6" font-size="7.75" text-anchor="start" fill="#1e1e1e" font-family='"Liberation Sans", sans-serif' stroke="#1e1e1e" stroke-width="0.22">Real</text>
<text x="43.8" y="216.4" font-size="7.75" text-anchor="start" fill="#1e1e1e" font-family='"Liberation Sans", sans-serif' stroke="#1e1e1e" stroke-width="0.22">Imaginary</text>
<text x="173.25" y="356.2" font-size="9.6" text-anchor="middle" fill="#333" font-family='"Liberation Sans", sans-serif' >Frequency (Hz)</text>
<text transform="translate(8 278.6) rotate(-90)" fill="#333" font-family='"Liberation Serif", serif' font-style="italic"><tspan x="0.4" y="0" font-size="10.4">z</tspan><tspan x="5.8" y="1.6" font-size="7.6">e</tspan><tspan x="9.4" y="1.6" font-size="7.6">f</tspan><tspan x="12.6" y="1.6" font-size="7.6">f</tspan><tspan x="16.8" y="0" font-size="10.4">/</tspan><tspan x="21.2" y="0" font-size="10.4">z</tspan><tspan x="25.6" y="1.6" font-size="7.6">0</tspan></text>
<rect x="378" y="192.4" width="298" height="139.5" fill="none" stroke="#c4c4c4" stroke-width="1.4"/>
<path d="M378,331.9 v-2.9 M378,192.4 v2.9 M407.8,331.9 v-2.9 M407.8,192.4 v2.9 M437.6,331.9 v-2.9 M437.6,192.4 v2.9 M467.4,331.9 v-2.9 M467.4,192.4 v2.9 M497.2,331.9 v-2.9 M497.2,192.4 v2.9 M527,331.9 v-2.9 M527,192.4 v2.9 M556.8,331.9 v-2.9 M556.8,192.4 v2.9 M586.6,331.9 v-2.9 M586.6,192.4 v2.9 M616.4,331.9 v-2.9 M616.4,192.4 v2.9 M646.2,331.9 v-2.9 M646.2,192.4 v2.9 M676,331.9 v-2.9 M676,192.4 v2.9 M378,331.9 h2.9 M676,331.9 h-2.9 M378,297.02 h2.9 M676,297.02 h-2.9 M378,262.15 h2.9 M676,262.15 h-2.9 M378,227.28 h2.9 M676,227.28 h-2.9 M378,192.4 h2.9 M676,192.4 h-2.9 " stroke="#a8a8a8" stroke-width="1" fill="none"/>
<text x="378" y="344.5" font-size="9" text-anchor="middle" fill="#404040" font-family='"Liberation Sans", sans-serif' letter-spacing="-0.15">400</text>
<text x="407.8" y="344.5" font-size="9" text-anchor="middle" fill="#404040" font-family='"Liberation Sans", sans-serif' letter-spacing="-0.15">420</text>
<text x="437.6" y="344.5" font-size="9" text-anchor="middle" fill="#404040" font-family='"Liberation Sans", sans-serif' letter-spacing="-0.15">440</text>
<text x="467.4" y="344.5" font-size="9" text-anchor="middle" fill="#404040" font-family='"Liberation Sans", sans-serif' letter-spacing="-0.15">460</text>
<text x="497.2" y="344.5" font-size="9" text-anchor="middle" fill="#404040" font-family='"Liberation Sans", sans-serif' letter-spacing="-0.15">480</text>
<text x="527" y="344.5" font-size="9" text-anchor="middle" fill="#404040" font-family='"Liberation Sans", sans-serif' letter-spacing="-0.15">500</text>
<text x="556.8" y="344.5" font-size="9" text-anchor="middle" fill="#404040" font-family='"Liberation Sans", sans-serif' letter-spacing="-0.15">520</text>
<text x="586.6" y="344.5" font-size="9" text-anchor="middle" fill="#404040" font-family='"Liberation Sans", sans-serif' letter-spacing="-0.15">540</text>
<text x="616.4" y="344.5" font-size="9" text-anchor="middle" fill="#404040" font-family='"Liberation Sans", sans-serif' letter-spacing="-0.15">560</text>
<text x="646.2" y="344.5" font-size="9" text-anchor="middle" fill="#404040" font-family='"Liberation Sans", sans-serif' letter-spacing="-0.15">580</text>
<text x="676" y="344.5" font-size="9" text-anchor="middle" fill="#404040" font-family='"Liberation Sans", sans-serif' letter-spacing="-0.15">600</text>
<text x="375.3" y="335.64" font-size="9" text-anchor="end" fill="#404040" font-family='"Liberation Sans", sans-serif' letter-spacing="-0.15">-2</text>
<text x="375.3" y="300.76" font-size="9" text-anchor="end" fill="#404040" font-family='"Liberation Sans", sans-serif' letter-spacing="-0.15">-1</text>
<text x="375.3" y="265.89" font-size="9" text-anchor="end" fill="#404040" font-family='"Liberation Sans", sans-serif' letter-spacing="-0.15">0</text>
<text x="375.3" y="231.02" font-size="9" text-anchor="end" fill="#404040" font-family='"Liberation Sans", sans-serif' letter-spacing="-0.15">1</text>
<text x="375.3" y="196.14" font-size="9" text-anchor="end" fill="#404040" font-family='"Liberation Sans", sans-serif' letter-spacing="-0.15">2</text>
<line x1="378" y1="227.3" x2="676" y2="227.3" stroke="#7a7a7a" stroke-width="1" stroke-dasharray="3.3 2.9"/>
<line x1="378" y1="262.4" x2="676" y2="262.4" stroke="#7a7a7a" stroke-width="1" stroke-dasharray="3.3 2.9"/>
<g fill="#1a5280"><rect x="526.15" y="194.35" width="1.7" height="1.7"/><rect x="526.15" y="197.58" width="1.7" height="1.7"/><rect x="526.15" y="200.81" width="1.7" height="1.7"/><rect x="526.15" y="204.04" width="1.7" height="1.7"/><rect x="526.15" y="207.27" width="1.7" height="1.7"/><rect x="526.15" y="210.5" width="1.7" height="1.7"/><rect x="526.15" y="213.73" width="1.7" height="1.7"/><rect x="526.15" y="216.96" width="1.7" height="1.7"/><rect x="526.15" y="220.19" width="1.7" height="1.7"/><rect x="526.15" y="223.42" width="1.7" height="1.7"/><rect x="526.15" y="226.65" width="1.7" height="1.7"/><rect x="526.15" y="229.88" width="1.7" height="1.7"/><rect x="526.15" y="233.11" width="1.7" height="1.7"/><rect x="526.15" y="236.34" width="1.7" height="1.7"/><rect x="526.15" y="239.57" width="1.7" height="1.7"/><rect x="526.15" y="242.8" width="1.7" height="1.7"/><rect x="526.15" y="246.03" width="1.7" height="1.7"/><rect x="526.15" y="249.26" width="1.7" height="1.7"/><rect x="526.15" y="252.49" width="1.7" height="1.7"/><rect x="526.15" y="255.72" width="1.7" height="1.7"/><rect x="526.15" y="258.95" width="1.7" height="1.7"/><rect x="526.15" y="262.18" width="1.7" height="1.7"/><rect x="526.15" y="265.41" width="1.7" height="1.7"/><rect x="526.15" y="268.64" width="1.7" height="1.7"/><rect x="526.15" y="271.87" width="1.7" height="1.7"/><rect x="526.15" y="275.1" width="1.7" height="1.7"/><rect x="526.15" y="278.33" width="1.7" height="1.7"/><rect x="526.15" y="281.56" width="1.7" height="1.7"/><rect x="526.15" y="284.79" width="1.7" height="1.7"/><rect x="526.15" y="288.02" width="1.7" height="1.7"/><rect x="526.15" y="291.25" width="1.7" height="1.7"/><rect x="526.15" y="294.48" width="1.7" height="1.7"/><rect x="526.15" y="297.71" width="1.7" height="1.7"/><rect x="526.15" y="300.94" width="1.7" height="1.7"/><rect x="526.15" y="304.17" width="1.7" height="1.7"/><rect x="526.15" y="307.4" width="1.7" height="1.7"/><rect x="526.15" y="310.63" width="1.7" height="1.7"/><rect x="526.15" y="313.86" width="1.7" height="1.7"/><rect x="526.15" y="317.09" width="1.7" height="1.7"/><rect x="526.15" y="320.32" width="1.7" height="1.7"/><rect x="526.15" y="323.55" width="1.7" height="1.7"/><rect x="526.15" y="326.78" width="1.7" height="1.7"/><rect x="526.15" y="330.01" width="1.7" height="1.7"/></g>
<path d="M378,218.56 C378.33,218.72 379.33,219.18 380,219.51 C380.67,219.84 381.33,220.18 382,220.53 C382.67,220.87 383.33,221.23 384,221.59 C384.67,221.96 385.33,222.33 386,222.7 C386.67,223.07 387.33,223.45 388,223.83 C388.67,224.21 389.33,224.6 390,224.98 C390.67,225.36 391.33,225.74 392,226.13 C392.67,226.51 393.33,226.89 394,227.26 C394.67,227.64 395.33,228.01 396,228.37 C396.67,228.74 397.33,229.1 398,229.45 C398.67,229.8 399.33,230.14 400,230.47 C400.67,230.8 401.33,231.12 402,231.43 C402.67,231.74 403.33,232.04 404,232.32 C404.67,232.6 405.33,232.87 406,233.12 C406.67,233.37 407.33,233.6 408,233.83 C408.67,234.05 409.33,234.26 410,234.45 C410.67,234.65 411.33,234.83 412,235 C412.67,235.18 413.33,235.34 414,235.49 C414.67,235.64 415.33,235.78 416,235.91 C416.67,236.05 417.33,236.17 418,236.29 C418.67,236.4 419.33,236.51 420,236.61 C420.67,236.72 421.33,236.81 422,236.91 C422.67,237 423.33,237.08 424,237.17 C424.67,237.25 425.33,237.33 426,237.41 C426.67,237.49 427.33,237.56 428,237.64 C428.67,237.71 429.33,237.79 430,237.86 C430.67,237.94 431.33,238.01 432,238.08 C432.67,238.16 433.33,238.23 434,238.31 C434.67,238.38 435.33,238.46 436,238.53 C436.67,238.61 437.33,238.69 438,238.76 C438.67,238.84 439.33,238.91 440,238.99 C440.67,239.07 441.33,239.14 442,239.22 C442.67,239.29 443.33,239.37 444,239.44 C444.67,239.52 445.33,239.6 446,239.67 C446.67,239.75 447.33,239.82 448,239.9 C448.67,239.97 449.33,240.05 450,240.12 C450.67,240.2 451.33,240.27 452,240.35 C452.67,240.42 453.33,240.49 454,240.57 C454.67,240.64 455.33,240.71 456,240.79 C456.67,240.86 457.33,240.93 458,241 C458.67,241.07 459.33,241.15 460,241.22 C460.67,241.29 461.33,241.36 462,241.43 C462.67,241.5 463.33,241.56 464,241.63 C464.67,241.7 465.33,241.77 466,241.83 C466.67,241.9 467.33,241.97 468,242.03 C468.67,242.1 469.33,242.16 470,242.23 C470.67,242.29 471.33,242.35 472,242.41 C472.67,242.48 473.33,242.54 474,242.6 C474.67,242.66 475.33,242.72 476,242.77 C476.67,242.83 477.33,242.89 478,242.94 C478.67,243 479.33,243.06 480,243.11 C480.67,243.16 481.33,243.22 482,243.27 C482.67,243.32 483.33,243.37 484,243.42 C484.67,243.47 485.33,243.51 486,243.56 C486.67,243.61 487.33,243.65 488,243.7 C488.67,243.74 489.33,243.78 490,243.82 C490.67,243.86 491.33,243.9 492,243.94 C492.67,243.98 493.33,244.02 494,244.06 C494.67,244.09 495.33,244.13 496,244.16 C496.67,244.2 497.33,244.23 498,244.26 C498.67,244.29 499.33,244.32 500,244.35 C500.67,244.38 501.33,244.41 502,244.43 C502.67,244.46 503.33,244.49 504,244.51 C504.67,244.53 505.33,244.56 506,244.58 C506.67,244.6 507.33,244.62 508,244.64 C508.67,244.66 509.33,244.68 510,244.69 C510.67,244.71 511.33,244.73 512,244.74 C512.67,244.76 513.33,244.77 514,244.78 C514.67,244.79 515.33,244.8 516,244.81 C516.67,244.82 517.33,244.83 518,244.84 C518.67,244.84 519.33,244.85 520,244.86 C520.67,244.86 521.33,244.86 522,244.87 C522.67,244.87 523.33,244.87 524,244.87 C524.67,244.87 525.33,244.87 526,244.87 C526.67,244.86 527.33,244.86 528,244.86 C528.67,244.85 529.33,244.84 530,244.84 C530.67,244.83 531.33,244.82 532,244.81 C532.67,244.8 533.33,244.79 534,244.78 C534.67,244.77 535.33,244.76 536,244.74 C536.67,244.73 537.33,244.71 538,244.7 C538.67,244.68 539.33,244.66 540,244.64 C540.67,244.62 541.33,244.6 542,244.58 C542.67,244.56 543.33,244.54 544,244.52 C544.67,244.49 545.33,244.47 546,244.44 C546.67,244.42 547.33,244.39 548,244.36 C548.67,244.34 549.33,244.31 550,244.28 C550.67,244.25 551.33,244.22 552,244.18 C552.67,244.15 553.33,244.12 554,244.08 C554.67,244.05 555.33,244.01 556,243.98 C556.67,243.94 557.33,243.9 558,243.87 C558.67,243.83 559.33,243.79 560,243.75 C560.67,243.7 561.33,243.66 562,243.62 C562.67,243.58 563.33,243.53 564,243.49 C564.67,243.44 565.33,243.4 566,243.35 C566.67,243.3 567.33,243.25 568,243.21 C568.67,243.16 569.33,243.11 570,243.05 C570.67,243 571.33,242.95 572,242.9 C572.67,242.84 573.33,242.79 574,242.73 C574.67,242.68 575.33,242.62 576,242.56 C576.67,242.51 577.33,242.45 578,242.39 C578.67,242.33 579.33,242.27 580,242.21 C580.67,242.15 581.33,242.08 582,242.02 C582.67,241.96 583.33,241.89 584,241.83 C584.67,241.76 585.33,241.7 586,241.63 C586.67,241.56 587.33,241.49 588,241.42 C588.67,241.35 589.33,241.28 590,241.21 C590.67,241.14 591.33,241.07 592,241 C592.67,240.92 593.33,240.85 594,240.77 C594.67,240.7 595.33,240.62 596,240.54 C596.67,240.47 597.33,240.39 598,240.31 C598.67,240.23 599.33,240.15 600,240.07 C600.67,239.99 601.33,239.91 602,239.83 C602.67,239.74 603.33,239.66 604,239.58 C604.67,239.49 605.33,239.41 606,239.32 C606.67,239.23 607.33,239.15 608,239.06 C608.67,238.97 609.33,238.88 610,238.79 C610.67,238.7 611.33,238.61 612,238.52 C612.67,238.43 613.33,238.34 614,238.24 C614.67,238.15 615.33,238.06 616,237.96 C616.67,237.87 617.33,237.77 618,237.67 C618.67,237.58 619.33,237.48 620,237.38 C620.67,237.28 621.33,237.18 622,237.08 C622.67,236.98 623.33,236.88 624,236.78 C624.67,236.68 625.33,236.57 626,236.47 C626.67,236.36 627.33,236.26 628,236.15 C628.67,236.04 629.33,235.94 630,235.83 C630.67,235.72 631.33,235.6 632,235.49 C632.67,235.38 633.33,235.26 634,235.15 C634.67,235.03 635.33,234.91 636,234.79 C636.67,234.67 637.33,234.55 638,234.42 C638.67,234.3 639.33,234.17 640,234.05 C640.67,233.92 641.33,233.79 642,233.65 C642.67,233.52 643.33,233.39 644,233.25 C644.67,233.11 645.33,232.97 646,232.83 C646.67,232.69 647.33,232.54 648,232.39 C648.67,232.25 649.33,232.1 650,231.94 C650.67,231.79 651.33,231.63 652,231.48 C652.67,231.32 653.33,231.16 654,230.99 C654.67,230.83 655.33,230.66 656,230.49 C656.67,230.32 657.33,230.14 658,229.97 C658.67,229.79 659.33,229.61 660,229.42 C660.67,229.24 661.33,229.05 662,228.86 C662.67,228.67 663.33,228.48 664,228.28 C664.67,228.08 665.33,227.88 666,227.67 C666.67,227.47 667.33,227.26 668,227.04 C668.67,226.83 669.33,226.61 670,226.39 C670.67,226.17 671.33,225.94 672,225.71 C672.67,225.48 673.33,225.25 674,225.01 C674.67,224.77 675.67,224.4 676,224.28" stroke="#ff1a1a" stroke-width="2.4" fill="none" stroke-linejoin="round" stroke-linecap="butt" clip-path="url(#cd)"/>
<path d="M378,265.69 C378.34,265.7 379.34,265.7 380.02,265.74 C380.69,265.77 381.36,265.81 382.03,265.88 C382.71,265.94 383.38,266.02 384.05,266.11 C384.72,266.2 385.4,266.3 386.07,266.42 C386.74,266.54 387.41,266.67 388.08,266.81 C388.76,266.95 389.43,267.11 390.1,267.27 C390.77,267.44 391.45,267.61 392.12,267.8 C392.79,267.99 393.46,268.18 394.13,268.39 C394.81,268.59 395.48,268.81 396.15,269.03 C396.82,269.26 397.5,269.49 398.17,269.73 C398.84,269.96 399.51,270.21 400.19,270.46 C400.86,270.72 401.53,270.98 402.2,271.24 C402.87,271.5 403.55,271.77 404.22,272.05 C404.89,272.32 405.56,272.6 406.24,272.88 C406.91,273.17 407.58,273.45 408.25,273.74 C408.93,274.03 409.6,274.32 410.27,274.61 C410.94,274.91 411.61,275.2 412.29,275.5 C412.96,275.79 413.63,276.09 414.3,276.39 C414.98,276.68 415.65,276.98 416.32,277.28 C416.99,277.58 417.67,277.87 418.34,278.17 C419.01,278.47 419.68,278.77 420.35,279.07 C421.03,279.37 421.7,279.67 422.37,279.97 C423.04,280.27 423.72,280.57 424.39,280.87 C425.06,281.17 425.73,281.46 426.4,281.76 C427.08,282.06 427.75,282.36 428.42,282.66 C429.09,282.96 429.77,283.26 430.44,283.55 C431.11,283.85 431.78,284.15 432.46,284.44 C433.13,284.74 433.8,285.04 434.47,285.33 C435.14,285.63 435.82,285.92 436.49,286.21 C437.16,286.51 437.83,286.8 438.51,287.09 C439.18,287.38 439.85,287.67 440.52,287.96 C441.2,288.25 441.87,288.54 442.54,288.83 C443.21,289.11 443.88,289.4 444.56,289.68 C445.23,289.97 445.9,290.25 446.57,290.53 C447.25,290.81 447.92,291.09 448.59,291.37 C449.26,291.65 449.93,291.93 450.61,292.2 C451.28,292.48 451.95,292.75 452.62,293.03 C453.3,293.3 453.97,293.58 454.64,293.85 C455.31,294.12 455.99,294.39 456.66,294.66 C457.33,294.94 458,295.21 458.67,295.47 C459.35,295.74 460.02,296.01 460.69,296.28 C461.36,296.55 462.04,296.81 462.71,297.08 C463.38,297.35 464.05,297.61 464.73,297.88 C465.4,298.14 466.07,298.41 466.74,298.67 C467.41,298.94 468.09,299.2 468.76,299.47 C469.43,299.73 470.1,299.99 470.78,300.26 C471.45,300.52 472.12,300.78 472.79,301.05 C473.47,301.31 474.14,301.57 474.81,301.83 C475.48,302.1 476.15,302.36 476.83,302.62 C477.5,302.88 478.17,303.15 478.84,303.41 C479.52,303.67 480.19,303.93 480.86,304.2 C481.53,304.46 482.2,304.72 482.88,304.99 C483.55,305.25 484.22,305.51 484.89,305.78 C485.57,306.04 486.24,306.3 486.91,306.57 C487.58,306.83 488.26,307.1 488.93,307.36 C489.6,307.63 490.27,307.9 490.94,308.16 C491.62,308.43 492.29,308.7 492.96,308.96 C493.63,309.23 494.31,309.5 494.98,309.77 C495.65,310.04 496.32,310.31 497,310.58 C497.67,310.85 498.34,311.12 499.01,311.4 C499.68,311.67 500.36,311.94 501.03,312.22 C501.7,312.49 502.37,312.77 503.05,313.05 C503.72,313.32 504.39,313.6 505.06,313.88 C505.73,314.16 506.41,314.44 507.08,314.72 C507.75,315 508.42,315.29 509.1,315.57 C509.77,315.85 510.44,316.14 511.11,316.43 C511.79,316.71 512.46,317 513.13,317.29 C513.8,317.58 514.47,317.88 515.15,318.17 C515.82,318.46 516.49,318.76 517.16,319.05 C517.84,319.35 518.51,319.65 519.18,319.95 C519.85,320.25 520.53,320.55 521.2,320.85 C521.87,321.16 522.54,321.46 523.21,321.77 C523.89,322.08 524.56,322.39 525.23,322.7 C525.9,323.01 526.58,323.33 527.25,323.64 C527.92,323.96 528.59,324.28 529.27,324.6 C529.94,324.92 530.61,325.24 531.28,325.56 C531.95,325.89 532.63,326.21 533.3,326.54 C533.97,326.87 534.64,327.21 535.32,327.54 C535.99,327.87 536.66,328.21 537.33,328.55 C538,328.89 538.68,329.23 539.35,329.57 C540.02,329.92 540.69,330.27 541.37,330.62 C542.04,330.97 542.71,331.32 543.38,331.67 C544.06,332.03 545.06,332.57 545.4,332.75" stroke="#3a76c2" stroke-width="2.4" fill="none" stroke-linejoin="round" stroke-linecap="butt" clip-path="url(#cd)"/>
<rect x="381.3" y="195.3" width="49.9" height="21.1" fill="#fff" stroke="#c4c4c4" stroke-width="0.8"/>
<line x1="382.2" y1="200.7" x2="394.2" y2="200.7" stroke="#ff1a1a" stroke-width="2.1"/>
<line x1="382.2" y1="210.9" x2="394.2" y2="210.9" stroke="#3a76c2" stroke-width="2.1"/>
<text x="395.9" y="203.8" font-size="7.75" text-anchor="start" fill="#1e1e1e" font-family='"Liberation Sans", sans-serif' stroke="#1e1e1e" stroke-width="0.22">Real</text>
<text x="395.9" y="214" font-size="7.75" text-anchor="start" fill="#1e1e1e" font-family='"Liberation Sans", sans-serif' stroke="#1e1e1e" stroke-width="0.22">Imaginary</text>
<text x="527.1" y="356.4" font-size="9.6" text-anchor="middle" fill="#333" font-family='"Liberation Sans", sans-serif' >Frequency (Hz)</text>
<text transform="translate(362.9 277.9) rotate(-90)" fill="#333" font-family='"Liberation Serif", serif' font-style="italic"><tspan x="0.4" y="0" font-size="10.4">z</tspan><tspan x="5.8" y="1.6" font-size="7.6">e</tspan><tspan x="9.4" y="1.6" font-size="7.6">f</tspan><tspan x="12.6" y="1.6" font-size="7.6">f</tspan><tspan x="16.8" y="0" font-size="10.4">/</tspan><tspan x="21.2" y="0" font-size="10.4">z</tspan><tspan x="25.6" y="1.6" font-size="7.6">0</tspan></text>
<text x="34.7" y="28.5" font-size="17.6" fill="#0a0a0a" stroke="#fff" stroke-width="0.1" font-family='"Liberation Sans", sans-serif' textLength="21.4" lengthAdjust="spacingAndGlyphs">(a)</text>
<text x="391.8" y="83.9" font-size="18" fill="#0a0a0a" stroke="#fff" stroke-width="0.1" font-family='"Liberation Sans", sans-serif' textLength="21.8" lengthAdjust="spacingAndGlyphs">(b)</text>
<text x="35" y="237" font-size="17.9" fill="#0a0a0a" stroke="#fff" stroke-width="0.1" font-family='"Liberation Sans", sans-serif' textLength="18.9" lengthAdjust="spacingAndGlyphs">(c)</text>
<text x="384.3" y="250.6" font-size="17.9" fill="#0a0a0a" stroke="#fff" stroke-width="0.1" font-family='"Liberation Sans", sans-serif' textLength="21.8" lengthAdjust="spacingAndGlyphs">(d)</text>
</g>
</svg>
</body></html>
